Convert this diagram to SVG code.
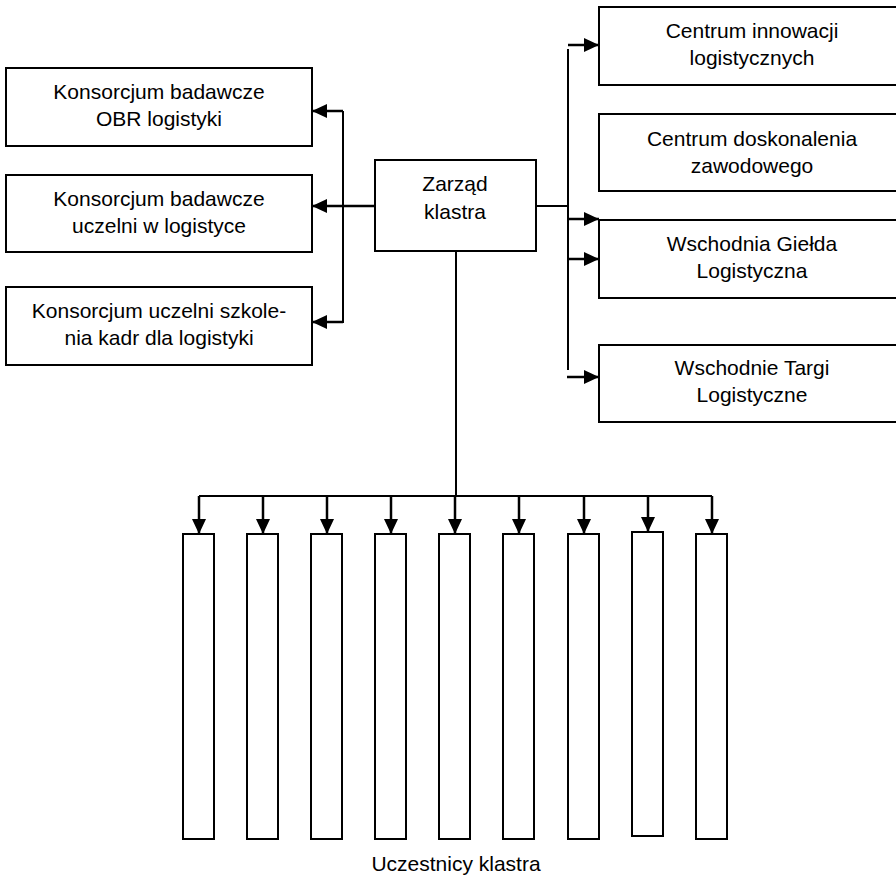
<svg xmlns="http://www.w3.org/2000/svg" width="896" height="878" viewBox="0 0 896 878">
<style>
.box{fill:#fff;stroke:#000;stroke-width:2}
.ln{fill:none;stroke:#000;stroke-width:2}
.ar{fill:none;stroke:#000;stroke-width:2.5;marker-end:url(#ah)}
text{font-family:"Liberation Sans",Arial,sans-serif;font-size:21px;fill:#000;text-anchor:middle}
</style>
<defs>
<marker id="ah" viewBox="0 0 15 14" refX="15" refY="7" markerWidth="15" markerHeight="14" markerUnits="userSpaceOnUse" orient="auto">
<path d="M0,0 L15,7 L0,14 z" fill="#000"/>
</marker>
</defs>
<rect width="896" height="878" fill="#fff"/>
<g id="connectors">
<path class="ln" d="M343 111 V323"/>
<path class="ar" d="M343 111 H312"/>
<path class="ar" d="M375 206 H312"/>
<path class="ar" d="M343 322 H312"/>
<path class="ln" d="M536 206 H568"/>
<path class="ln" d="M568 49 V370"/>
<path class="ar" d="M568 45 H599"/>
<path class="ar" d="M568 219 H599"/>
<path class="ar" d="M568 259 H599"/>
<path class="ar" d="M567 377 H599"/>
<path class="ln" d="M456 251 V496"/>
<path class="ln" d="M199 496 H712"/>
<path class="ar" d="M199 496 V534"/>
<path class="ar" d="M263 496 V534"/>
<path class="ar" d="M327 496 V534"/>
<path class="ar" d="M391 496 V534"/>
<path class="ar" d="M455 496 V534"/>
<path class="ar" d="M519 496 V534"/>
<path class="ar" d="M584 496 V534"/>
<path class="ar" d="M648 496 V532"/>
<path class="ar" d="M712 496 V534"/>
</g>
<g id="zarzad">
<rect class="box" x="375" y="160" width="161" height="91"/>
<text x="455" y="191">Zarząd</text>
<text x="455" y="219">klastra</text>
</g>
<g id="konsorcjum-obr">
<rect class="box" x="6" y="68" width="306" height="78"/>
<text x="159" y="99">Konsorcjum badawcze</text>
<text x="159" y="126">OBR logistyki</text>
</g>
<g id="konsorcjum-uczelni">
<rect class="box" x="6" y="175" width="306" height="77"/>
<text x="159" y="206">Konsorcjum badawcze</text>
<text x="159" y="233">uczelni w logistyce</text>
</g>
<g id="konsorcjum-szkolenia">
<rect class="box" x="6" y="287" width="306" height="78"/>
<text x="159" y="318">Konsorcjum uczelni szkole-</text>
<text x="159" y="345">nia kadr dla logistyki</text>
</g>
<g id="centrum-innowacji">
<rect class="box" x="599" y="7" width="306" height="78"/>
<text x="752" y="38">Centrum innowacji</text>
<text x="752" y="65">logistycznych</text>
</g>
<g id="centrum-doskonalenia">
<rect class="box" x="599" y="114" width="306" height="77"/>
<text x="752" y="146">Centrum doskonalenia</text>
<text x="752" y="173">zawodowego</text>
</g>
<g id="gielda">
<rect class="box" x="599" y="220" width="306" height="78"/>
<text x="752" y="251">Wschodnia Giełda</text>
<text x="752" y="278">Logistyczna</text>
</g>
<g id="targi">
<rect class="box" x="599" y="345" width="306" height="77"/>
<text x="752" y="375">Wschodnie Targi</text>
<text x="752" y="402">Logistyczne</text>
</g>
<g id="uczestnicy">
<rect class="box" x="183" y="534" width="31" height="305"/>
<rect class="box" x="247" y="534" width="31" height="305"/>
<rect class="box" x="311" y="534" width="31" height="305"/>
<rect class="box" x="375" y="534" width="31" height="305"/>
<rect class="box" x="439" y="534" width="31" height="305"/>
<rect class="box" x="503" y="534" width="31" height="305"/>
<rect class="box" x="568" y="534" width="31" height="305"/>
<rect class="box" x="632" y="532" width="31" height="304"/>
<rect class="box" x="696" y="534" width="31" height="305"/>
<text x="456" y="871">Uczestnicy klastra</text>
</g>
</svg>
